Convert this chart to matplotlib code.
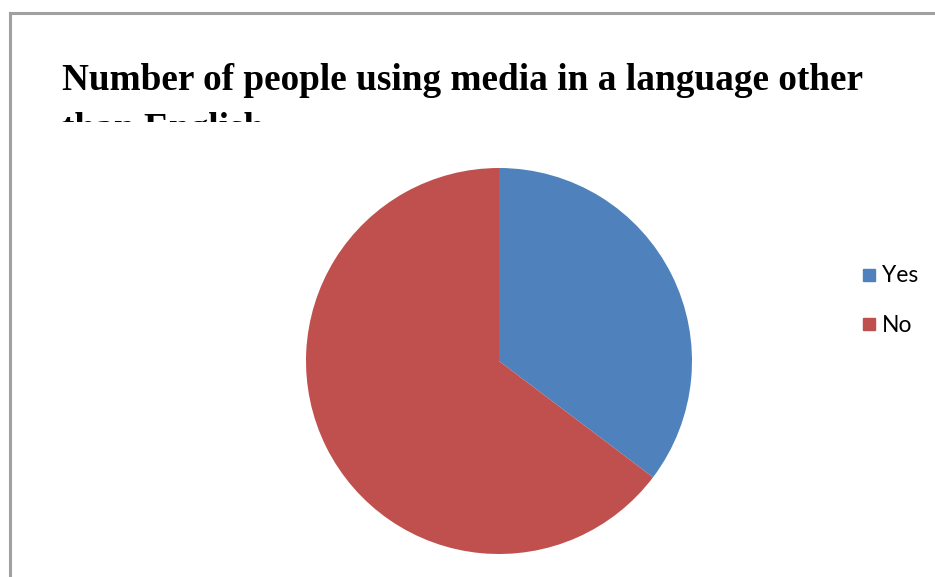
import matplotlib.pyplot as plt
from matplotlib.patches import Rectangle
from matplotlib.lines import Line2D

labels = ['Yes', 'No']
counts = [12, 22]
colors = ['#4F81BD', '#C0504D']
title_lines = ['Number of people using media in a language other', 'than English']

W, H = 935, 577
fig = plt.figure(figsize=(W / 100, H / 100), dpi=100)

# chart area border (top and left edges visible)
fig.add_artist(Line2D([10 / W, 10 / W], [0, 1 - 13 / H], color='#a0a0a0', lw=2.2))
fig.add_artist(Line2D([10 / W, 1], [1 - 13 / H, 1 - 13 / H], color='#a0a0a0', lw=2.2))

ax = fig.add_axes([306 / W, 23 / H, 386 / W, 386 / H])
ax.pie(counts, colors=colors, startangle=90, counterclock=False,
       wedgeprops=dict(linewidth=0))
ax.set_xlim(-1, 1)
ax.set_ylim(-1, 1)
ax.set_aspect('equal')

# title, second line cut off by the plot area
clip = Rectangle((0, 1 - 122 / H), 1, 122 / H, transform=fig.transFigure)
for i, line in enumerate(title_lines):
    t = fig.text(62 / W, 1 - (90 + 49 * i) / H, line, fontsize=26.8,
                 fontweight='bold', family='Liberation Serif',
                 ha='left', va='baseline')
    t.set_clip_path(clip)

for i, (lab, c) in enumerate(zip(labels, colors)):
    y = 1 - (275 + 49 * i) / H
    fig.add_artist(Rectangle((863 / W, y - 6 / H), 12 / W, 12 / H,
                             color=c, transform=fig.transFigure))
    fig.text(882 / W, y - 1 / H, lab, fontsize=16.5, family='Lato',
             va='center', ha='left')

fig.savefig('out.png', dpi=100)
